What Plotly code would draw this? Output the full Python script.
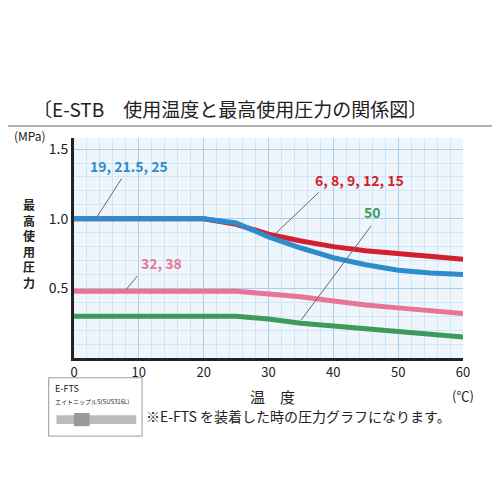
import plotly.graph_objects as go

temps = [0, 10, 20, 25, 30, 35, 40, 45, 50, 55, 60]
s_blue = [1.0, 1.0, 1.0, 0.97, 0.87, 0.79, 0.72, 0.67, 0.63, 0.61, 0.60]
s_red = [1.0, 1.0, 1.0, 0.96, 0.89, 0.84, 0.80, 0.77, 0.75, 0.73, 0.71]
s_pink = [0.48, 0.48, 0.48, 0.48, 0.46, 0.44, 0.41, 0.38, 0.36, 0.34, 0.32]
s_green = [0.30, 0.30, 0.30, 0.30, 0.28, 0.25, 0.23, 0.21, 0.19, 0.17, 0.15]
x_ticks = [0, 10, 20, 30, 40, 50, 60]
y_ticks = [0.5, 1.0, 1.5]

F = "Noto Sans CJK JP"
fig = go.Figure()
for ys, c in [(s_green, "#3d9a5a"), (s_pink, "#e87595"), (s_red, "#d4202e"), (s_blue, "#2e8ccc")]:
    fig.add_trace(go.Scatter(x=temps, y=ys, mode="lines", line=dict(color=c, width=5), showlegend=False))

def leader(px, py, tx, ty):
    fig.add_annotation(x=px, y=py, ax=tx, ay=ty, axref="x", ayref="y", text="", showarrow=True,
                       arrowhead=0, arrowwidth=1, arrowcolor="#666")

leader(3.5, 1.01, 7.5, 1.3)
fig.add_annotation(x=8.5, y=1.38, text="<b>19, 21.5, 25</b>", showarrow=False, font=dict(color="#2e8ccc", size=14, family=F))
leader(31, 0.89, 38, 1.2)
fig.add_annotation(x=44, y=1.28, text="<b>6, 8, 9, 12, 15</b>", showarrow=False, font=dict(color="#d4202e", size=14, family=F))
leader(8, 0.49, 10, 0.6)
fig.add_annotation(x=13.5, y=0.68, text="<b>32, 38</b>", showarrow=False, font=dict(color="#e87595", size=14, family=F))
leader(35, 0.27, 46, 0.96)
fig.add_annotation(x=46, y=1.05, text="<b>50</b>", showarrow=False, font=dict(color="#3d9a5a", size=14, family=F))

paper = [
    ("〔E-STB　使用温度と最高使用圧力の関係図〕", -0.11, 1.136, 19, "left", "middle"),
    ("(MPa)", -0.16, 1.01, 12, "left", "middle"),
    ("(℃)", 1.0, -0.12, 13, "center", "top"),
    ("温　度", 0.51, -0.12, 15, "center", "top"),
    ("※E-FTS を装着した時の圧力グラフになります。", 0.18, -0.264, 14, "left", "middle"),
]
for t, x, y, s, a, va in paper:
    fig.add_annotation(xref="paper", yref="paper", x=x, y=y, text=t, showarrow=False,
                       font=dict(size=s, color="#222", family=F), xanchor=a, yanchor=va)
fig.add_annotation(xref="paper", yref="paper", x=-0.135, y=0.52, text="<b>最<br>高<br>使<br>用<br>圧<br>力</b>", showarrow=False,
                   font=dict(size=12, color="#222", family=F))
fig.add_shape(type="line", xref="paper", yref="paper", x0=-0.17, x1=1.12, y0=1.055, y1=1.055, line=dict(color="#999", width=1.5))
fig.add_shape(type="rect", xref="paper", yref="paper", x0=-0.065, x1=0.175, y0=-0.355, y1=-0.09, line=dict(color="#999", width=1), fillcolor="white")
fig.add_annotation(xref="paper", yref="paper", x=-0.055, y=-0.1, text="E-FTS<br><span style='font-size:6px'>エイトニップルS(SUS316L)</span>",
                   showarrow=False, xanchor="left", yanchor="top", align="left", font=dict(size=9, color="#222", family=F))
fig.add_shape(type="rect", xref="paper", yref="paper", x0=-0.045, x1=0.16, y0=-0.3, y1=-0.26, line=dict(width=0), fillcolor="#bbbbbb")
fig.add_shape(type="rect", xref="paper", yref="paper", x0=0.0, x1=0.04, y0=-0.31, y1=-0.25, line=dict(width=0), fillcolor="#999999")

fig.update_layout(width=500, height=500, margin=dict(l=66, r=45, t=130, b=150), plot_bgcolor="#eef6fc",
                  paper_bgcolor="white", font=dict(family=F))
fig.update_xaxes(range=[0, 60], tickvals=x_ticks, showgrid=True, gridcolor="#a8cfee", gridwidth=1,
                 minor=dict(dtick=2, showgrid=True, gridcolor="#d0e6f7"), showline=True, linecolor="#222", linewidth=3,
                 tickfont=dict(size=13, color="#222"), ticks="", zeroline=False)
fig.update_yaxes(range=[0, 1.58], tickvals=y_ticks, ticktext=["0.5", "1.0", "1.5"], showgrid=True, gridcolor="#a8cfee",
                 minor=dict(dtick=0.1, showgrid=True, gridcolor="#d0e6f7"), showline=True, linecolor="#222", linewidth=3,
                 tickfont=dict(size=14, color="#222"), ticks="", zeroline=False)
fig.write_html("out.html")
